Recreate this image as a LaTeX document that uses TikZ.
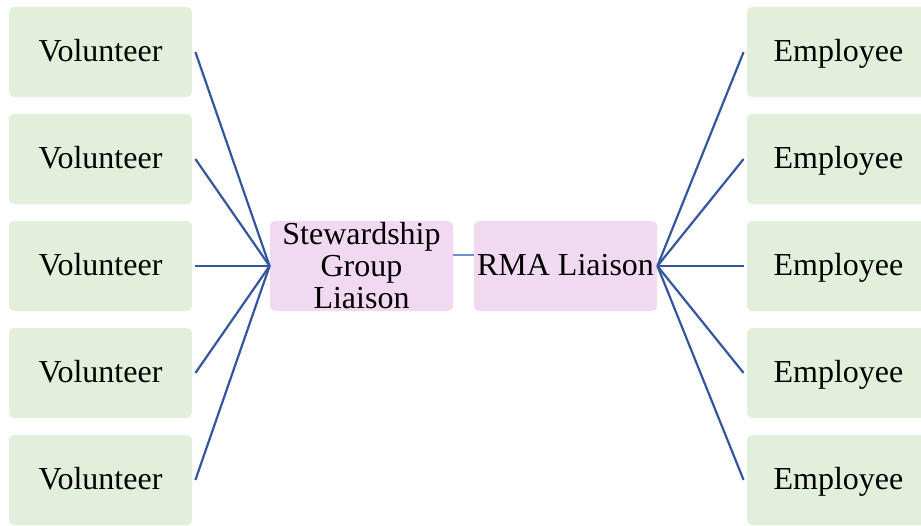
\documentclass[tikz,border=0pt]{standalone}
\usepackage{fontspec}
\setmainfont{Liberation Serif}
\definecolor{boxgreen}{RGB}{226,239,218}
\definecolor{boxpink}{RGB}{242,217,242}
\definecolor{linkblue}{RGB}{52,86,158}
\definecolor{lightblue}{RGB}{110,145,210}
\begin{document}
\begin{tikzpicture}[x=0.5pt,y=-0.5pt]
			\tikzset{box/.style={rounded corners=2.5pt,minimum width=91.5pt,minimum height=45pt,inner sep=0pt,text height=12pt,text depth=3pt,font=\fontsize{16}{16}\selectfont},
				vol/.style={box,fill=boxgreen},
				emp/.style={box,fill=boxgreen},
				liaison/.style={box,fill=boxpink},
				link/.style={linkblue,line width=1.1pt}}
			\useasboundingbox(0,0)rectangle(921,525);
			\clip(0,0)rectangle(921,525);
			% side boxes
			\foreach \i/\y in{1/52,2/159,3/266,4/373,5/480}{
				\node[vol](v\i)at(100.5,\y){Volunteer};
				\node[emp](e\i)at(838.5,\y){Employee};
			}
			% liaisons
			\node[liaison](stew)at(361.5,266){};
			\node[font=\fontsize{16}{16}\selectfont,align=center,inner sep=0pt](stewtext)at(stew.center){Stewardship\\Group\\Liaison};
			\node[liaison](rma)at(565.5,266){RMA Liaison};
			\draw[lightblue,line width=0.75pt]([yshift=5.5pt]stew.east)--([yshift=5.5pt]rma.west);
			\foreach \i in{1,...,5}{
				\draw[link](stew.west)--([xshift=1.5pt]v\i.east);
				\draw[link](rma.east)--([xshift=-1.5pt]e\i.west);
			}
	\end{tikzpicture}
\end{document}
